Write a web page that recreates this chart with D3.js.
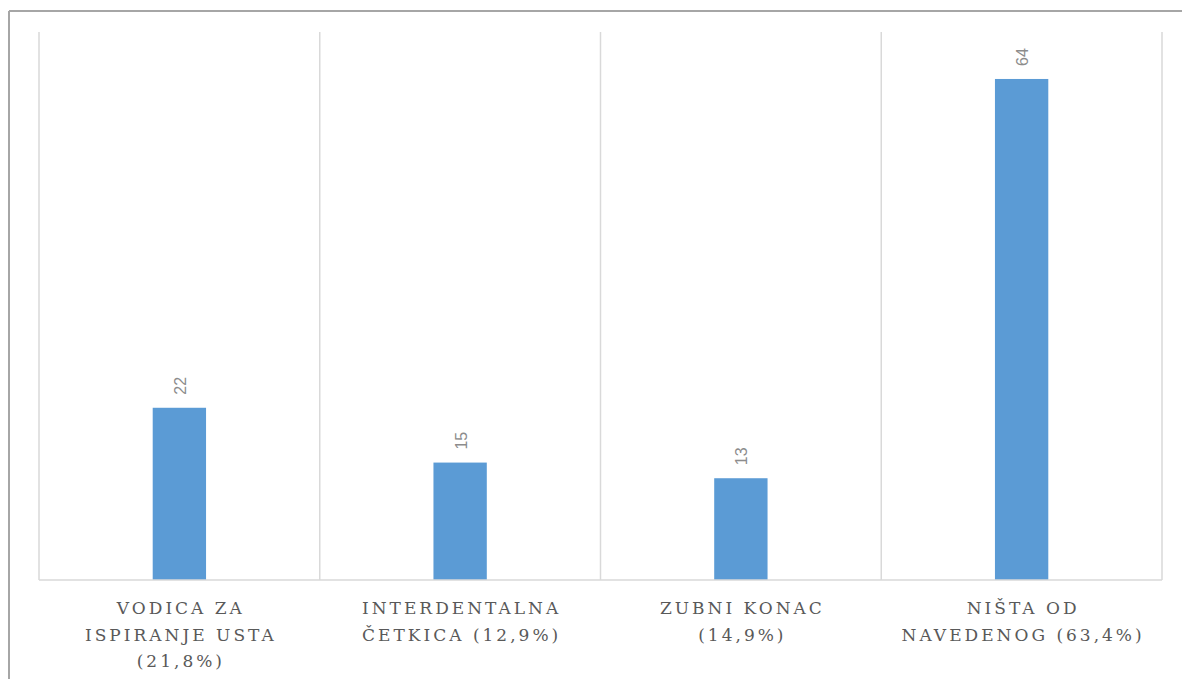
<!DOCTYPE html>
<html lang="hr">
  <head>
    <meta charset="utf-8">
    <title>Sredstva za oralnu higijenu</title>
    <script type="text/javascript" src="https://d3js.org/d3.v7.min.js"></script>
    <style type="text/css">
    body { margin: 0; background: #fff; }
    .value { font-family: "Liberation Sans", Arial, sans-serif; font-size: 16px; fill: #8c8c8c; }
    </style>
  </head>
  <body>
    <svg width="1182" height="679" id="chart"></svg>
    <script type="text/javascript">

    const categories = ["VODICA ZA ISPIRANJE USTA (21,8%)", "INTERDENTALNA ČETKICA (12,9%)", "ZUBNI KONAC (14,9%)", "NIŠTA OD NAVEDENOG (63,4%)"];
    const labelLines = [
      ["VODICA ZA", "ISPIRANJE USTA", "(21,8%)"],
      ["INTERDENTALNA", "ČETKICA (12,9%)"],
      ["ZUBNI KONAC", "(14,9%)"],
      ["NIŠTA OD", "NAVEDENOG (63,4%)"]
    ];
    const values = [22, 15, 13, 64];

    const plotL = 39, plotR = 1162, plotT = 32, plotB = 580;

    const svg = d3.select("#chart");

    // outer frame (top and left edges visible)
    svg.append("line").attr("x1", 9).attr("y1", 11).attr("x2", 1182).attr("y2", 11)
        .attr("stroke", "#a6a6a6").attr("stroke-width", 2);
    svg.append("line").attr("x1", 9).attr("y1", 11).attr("x2", 9).attr("y2", 679)
        .attr("stroke", "#a6a6a6").attr("stroke-width", 2);

    const xScale = d3.scaleBand()
        .domain(categories)
        .range([plotL, plotR]);

    const yScale = d3.scaleLinear()
        .domain([0, 70])
        .range([plotB, plotT]);

    // vertical gridlines at category boundaries
    const bounds = categories.map(c => xScale(c)).concat([plotR]);
    svg.selectAll("line.grid")
        .data(bounds)
        .enter()
        .append("line")
        .attr("class", "grid")
        .attr("x1", d => d).attr("x2", d => d)
        .attr("y1", plotT).attr("y2", plotB)
        .attr("stroke", "#d9d9d9")
        .attr("stroke-width", 1.5);

    const barW = xScale.bandwidth() * 0.19;

    svg.selectAll("rect")
        .data(values)
        .enter()
        .append("rect")
        .attr("x", (d, i) => xScale(categories[i]) + xScale.bandwidth() / 2 - barW / 2)
        .attr("y", d => yScale(d))
        .attr("width", barW)
        .attr("height", d => plotB - yScale(d))
        .attr("fill", "#5b9bd5");

    // baseline
    svg.append("line")
        .attr("x1", plotL).attr("x2", plotR)
        .attr("y1", plotB).attr("y2", plotB)
        .attr("stroke", "#d9d9d9")
        .attr("stroke-width", 1.5);

    // value labels, rotated
    svg.selectAll("text.value")
        .data(values)
        .enter()
        .append("text")
        .attr("class", "value")
        .attr("transform", (d, i) => "translate(" + (xScale(categories[i]) + xScale.bandwidth() / 2 + 6.5) + "," + (yScale(d) - 13) + ") rotate(-90)")
        .attr("text-anchor", "start")
        .text(d => d);

    // category labels
    categories.forEach((c, i) => {
      const cx = xScale(c) + xScale.bandwidth() / 2;
      const t = svg.append("text")
          .attr("text-anchor", "middle")
          .style("font-family", "'DejaVu Serif', serif")
          .style("font-size", "17px")
          .style("letter-spacing", "3px")
          .style("fill", "#595959");
      labelLines[i].forEach((ln, j) => {
        t.append("tspan")
            .attr("x", cx + 1.5)
            .attr("y", 614 + j * 26.5)
            .text(ln);
      });
    });

    </script>
  </body>
</html>
